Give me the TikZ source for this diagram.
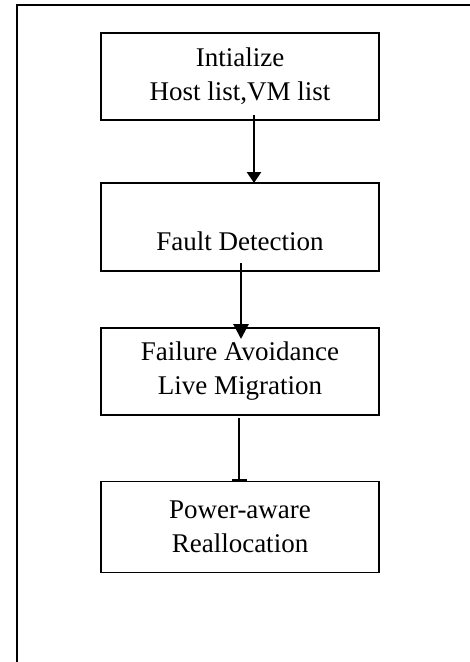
\documentclass[tikz,border=0pt]{standalone}
\usepackage{fontspec}
\setmainfont{Liberation Serif}
\usetikzlibrary{arrows.meta,calc}
\begin{document}
\begin{tikzpicture}[x=1pt,y=-1pt,
  stepbox/.style={draw, line width=1.3pt, minimum width=278pt, inner sep=0pt, outer sep=0pt,
    align=center, font=\fontsize{27}{34}\selectfont},
  conn/.style={line width=2.8pt}]
\useasboundingbox (0,0) rectangle (470,662);
\fill[white] (0,0) rectangle (470,662);
% outer frame (left and top edges visible)
\coordinate (fl) at (16.8,662);
\coordinate (ft) at (16.8,5);
\coordinate (fr) at (470,5);
\draw[line width=2.2pt, line join=miter] (fl) -- (ft) -- (fr);
% boxes
\node[stepbox, minimum height=87pt] (b1) at (240,76.5) {Intialize\\Host list,VM list};
\node[stepbox, minimum height=88pt] (b2) at (240,227) {\\[14pt]Fault Detection};
\node[stepbox, minimum height=87pt] (b3) at (240,371.5) {Failure Avoidance\\Live Migration};
\node[stepbox, minimum height=91pt] (b4) at (240,527) {Power-aware\\Reallocation};
% connectors
\draw[conn, -{Triangle[width=14pt,length=11pt]}] ($(b1.south)+(14,-5)$) -- ($(b2.north)+(14,0)$);
\draw[conn, -{Triangle[width=15pt,length=15pt]}] ($(b2.south)+(1,-8)$) -- ($(b3.north)+(1,11)$);
\draw[conn, -{Bar[width=15pt,line width=3pt]}] ($(b3.south)+(-1,3)$) -- ($(b4.north)+(-1,0)$);
\end{tikzpicture}
\end{document}
